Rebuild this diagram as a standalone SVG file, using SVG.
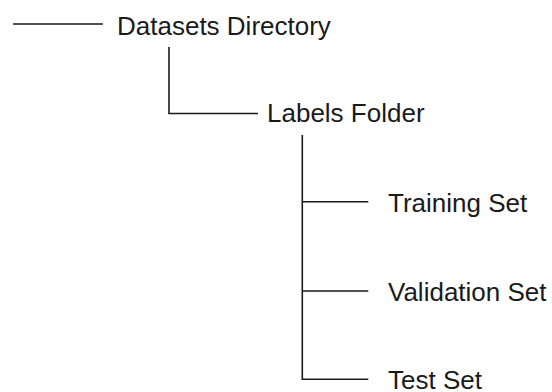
<svg xmlns="http://www.w3.org/2000/svg" width="552" height="392" viewBox="0 0 552 392">
<style>
.c{fill:none;stroke:#1a1a1a;stroke-width:1.6}
.t{font-family:"Liberation Sans",Arial,sans-serif;font-size:26px;fill:#1a1a1a}
</style>
<rect width="552" height="392" fill="#fff"/>
<g id="connectors">
<path class="c" d="M13 24H103"/>
<path class="c" d="M169 47V113.5H258"/>
<path class="c" d="M302.3 135V379.3H368.3M302.3 201.7H368.3M302.3 291H368.3"/>
</g>
<g id="datasets"><text class="t" x="117" y="35.3">Datasets Directory</text></g>
<g id="labels"><text class="t" x="267" y="122">Labels Folder</text></g>
<g id="training"><text class="t" x="388" y="212">Training Set</text></g>
<g id="validation"><text class="t" x="388" y="301">Validation Set</text></g>
<g id="test"><text class="t" x="388" y="388.6">Test Set</text></g>
</svg>
